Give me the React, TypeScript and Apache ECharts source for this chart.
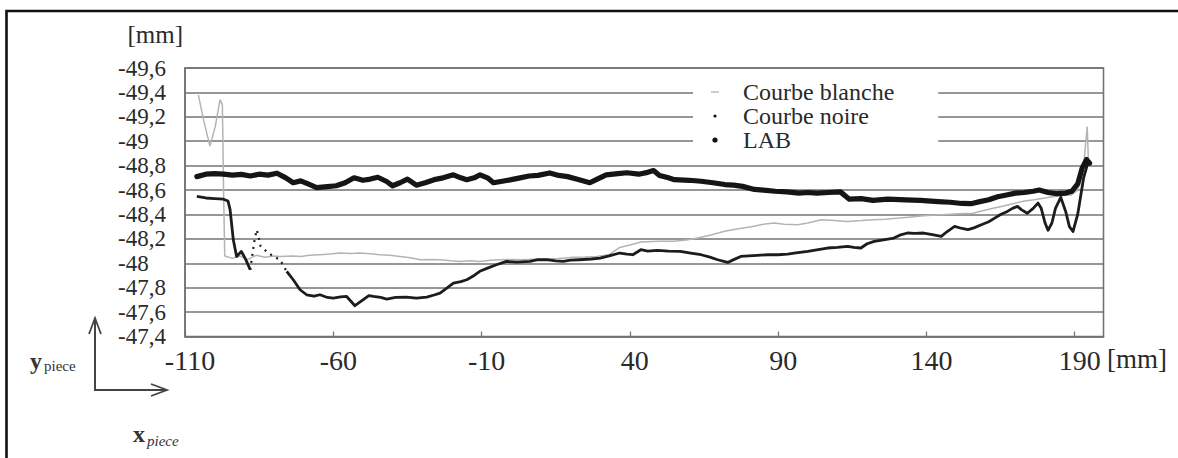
import React, { useEffect, useRef } from "react";
import * as echarts from "echarts";

// ---- data ----
const xTickValues = [-110, -60, -10, 40, 90, 140, 190];

const labPoints: [number, number][] = [
  [-106, -48.71], [-103, -48.73], [-100, -48.735], [-97, -48.73], [-94, -48.722], [-91, -48.728],
  [-88, -48.715], [-85, -48.73], [-82, -48.722], [-79, -48.738], [-76, -48.7], [-73.5, -48.66],
  [-71, -48.675], [-68.5, -48.65], [-65.6, -48.62], [-62, -48.628], [-59, -48.635], [-56, -48.66],
  [-53, -48.7], [-50, -48.68], [-47.5, -48.69], [-45, -48.705], [-42, -48.67], [-40, -48.635],
  [-37.5, -48.66], [-35, -48.69], [-32, -48.64], [-29, -48.66], [-26, -48.685], [-23, -48.7],
  [-19.5, -48.725], [-17, -48.7], [-15, -48.685], [-12.5, -48.7], [-10.5, -48.725], [-8, -48.7],
  [-6, -48.66], [-3, -48.672], [0, -48.685], [3, -48.7], [6, -48.715], [9, -48.72], [13, -48.74],
  [16, -48.72], [19, -48.71], [22, -48.69], [26.5, -48.66], [29, -48.69], [32, -48.725], [36, -48.735],
  [39, -48.742], [43, -48.73], [46, -48.745], [48, -48.76], [50, -48.72], [53, -48.7], [55, -48.685],
  [60, -48.68], [64, -48.672], [68, -48.66], [72, -48.645], [75, -48.64], [78, -48.63], [82, -48.605],
  [85, -48.6], [89, -48.59], [93, -48.585], [97, -48.575], [100, -48.58], [103, -48.575], [107, -48.58],
  [111, -48.585], [114, -48.525], [118, -48.53], [122, -48.515], [127, -48.525], [133, -48.52],
  [138, -48.515], [144, -48.505], [148, -48.5], [152, -48.49], [155, -48.488], [158, -48.505],
  [161, -48.52], [164, -48.545], [167, -48.56], [170, -48.575], [173, -48.58], [176, -48.59],
  [178, -48.6], [181, -48.58], [184, -48.57], [187, -48.575], [189, -48.59], [191, -48.65],
  [192.5, -48.78], [194, -48.85], [195, -48.82],
];

const noirePoints: [number, number][] = [
  [-106, -48.548], [-103, -48.535], [-100, -48.53], [-97, -48.525], [-95.5, -48.51], [-94.8, -48.44],
  [-93.7, -48.19], [-92.6, -48.056], [-91, -48.097], [-89.5, -48.03], [-88, -47.947],
];

const noireDottedPoints: [number, number][] = [
  [-88, -47.947], [-86.5, -48.2], [-85.8, -48.275], [-84.5, -48.14], [-82.5, -48.097],
  [-80.2, -48.056], [-78, -48.029], [-75.7, -47.933],
];

const noireRestPoints: [number, number][] = [
  [-75.7, -47.933], [-73.5, -47.865], [-71.2, -47.783], [-69, -47.742], [-66.5, -47.73], [-64.5, -47.742],
  [-62, -47.72], [-60, -47.715], [-57.5, -47.725], [-55.5, -47.728], [-52.7, -47.652], [-50, -47.7],
  [-48, -47.735], [-46.5, -47.728], [-44, -47.72], [-42, -47.707], [-39, -47.72], [-35.3, -47.723],
  [-32, -47.715], [-28.5, -47.723], [-26, -47.74], [-24, -47.756], [-21.5, -47.8], [-19.5, -47.838],
  [-17, -47.85], [-15, -47.865], [-12.5, -47.9], [-10.6, -47.934], [-8, -47.96], [-5, -47.988],
  [-1.6, -48.015], [2, -48.01], [6.3, -48.015], [9, -48.03], [11.9, -48.029], [15, -48.02],
  [17.5, -48.015], [20, -48.025], [23, -48.029], [27, -48.035], [30, -48.043], [33, -48.06],
  [36.6, -48.084], [39, -48.075], [41, -48.07], [43.7, -48.111], [46, -48.1], [49.3, -48.105],
  [53, -48.1], [57, -48.097], [60, -48.085], [64, -48.07], [67, -48.05], [69.6, -48.029], [73, -48.007],
  [75, -48.03], [77.4, -48.056], [80, -48.06], [83, -48.065], [86.4, -48.07], [90, -48.07],
  [93.2, -48.075], [96, -48.085], [100, -48.097], [103, -48.11], [106.6, -48.125], [110, -48.13],
  [113.4, -48.138], [115.5, -48.13], [117.9, -48.125], [120, -48.16], [122.4, -48.18], [125, -48.19],
  [129, -48.207], [131, -48.23], [133.6, -48.248], [136, -48.245], [139, -48.248], [142, -48.235],
  [145, -48.22], [147, -48.26], [149.5, -48.302], [152, -48.285], [154, -48.275], [156, -48.29],
  [158.5, -48.316], [161, -48.34], [163, -48.37], [165, -48.4], [167.3, -48.425], [169, -48.45],
  [170.7, -48.466], [172, -48.44], [174, -48.41], [176, -48.45], [177.6, -48.493], [178.7, -48.45],
  [180, -48.33], [181, -48.27], [182.3, -48.33], [183.5, -48.45], [185.3, -48.54], [187, -48.42],
  [188.2, -48.3], [189.4, -48.26], [191, -48.4], [193, -48.7], [194.4, -48.82],
];

const blanchePoints: [number, number][] = [
  [-105.5, -49.38], [-103.5, -49.15], [-101.6, -48.96], [-99.8, -49.12], [-98.2, -49.34], [-97.4, -49.3],
  [-97, -48.6], [-96.6, -48.06], [-94, -48.04], [-91.5, -48.06], [-89, -48.03], [-86, -48.065],
  [-83, -48.05], [-80, -48.06], [-78, -48.056], [-74, -48.06], [-71, -48.056], [-68, -48.065],
  [-64.5, -48.07], [-61, -48.075], [-57.8, -48.084], [-54, -48.08], [-51, -48.084], [-47.5, -48.078],
  [-44.3, -48.07], [-41, -48.065], [-37.5, -48.056], [-34, -48.045], [-30.8, -48.029], [-27, -48.03],
  [-24, -48.029], [-20.5, -48.02], [-17.3, -48.015], [-14, -48.02], [-10.6, -48.015], [-7, -48.025],
  [-3.8, -48.029], [0, -48.03], [3, -48.029], [8, -48.032], [12, -48.034], [16, -48.04], [21, -48.05],
  [25, -48.052], [28.8, -48.056], [33, -48.07], [36.6, -48.13], [40, -48.15], [43.7, -48.175],
  [50, -48.18], [55, -48.18], [59, -48.19], [62.8, -48.207], [67, -48.23], [72, -48.262], [76, -48.28],
  [81, -48.3], [85, -48.32], [88.7, -48.33], [92, -48.32], [96.6, -48.316], [100, -48.33],
  [104.5, -48.357], [109, -48.35], [113.4, -48.343], [118, -48.35], [122, -48.357], [126, -48.36],
  [131, -48.37], [135, -48.38], [139, -48.39], [143, -48.395], [146.8, -48.4], [151, -48.405],
  [155.7, -48.41], [159, -48.43], [162.5, -48.45], [166, -48.47], [169.5, -48.49], [173, -48.51],
  [176.3, -48.52], [180, -48.535], [183, -48.548], [186, -48.555], [188.8, -48.56], [191, -48.6],
  [193, -48.8], [194.2, -49.12], [194.6, -48.85],
];

const SERIF = "'Liberation Serif', 'DejaVu Serif', serif";
const GRID_COLOR = "#737373";
const TEXT_COLOR = "#2a2a2a";

export default function App() {
  const ref = useRef<HTMLDivElement>(null);

  useEffect(() => {
    if (!ref.current) return;
    const chart = echarts.init(ref.current, undefined, { renderer: "svg" });

    const fmtY = (v: number) => String(Math.round(v * 10) / 10).replace(".", ",");

    chart.setOption({
      animation: false,
      backgroundColor: "#ffffff",
      grid: {
        left: 185,
        top: 68,
        width: 918.5,
        height: 268.5,
        show: true,
        borderColor: GRID_COLOR,
        borderWidth: 1.6,
        backgroundColor: "transparent",
      },
      xAxis: {
        type: "value",
        min: -110,
        max: 199.7,
        axisLine: { show: true, onZero: false, lineStyle: { color: GRID_COLOR, width: 1.6 } },
        axisTick: {
          show: true,
          inside: true,
          length: 5,
          customValues: xTickValues,
          lineStyle: { color: GRID_COLOR, width: 1.2 },
        },
        axisLabel: {
          customValues: xTickValues,
          margin: 10,
          fontSize: 28,
          fontFamily: SERIF,
          color: TEXT_COLOR,
          padding: [0, 0, 0, 10],
          formatter: (v: number) => String(v),
        },
        splitLine: { show: false },
      },
      yAxis: {
        type: "value",
        inverse: true,
        min: -49.6,
        max: -47.4,
        interval: 0.2,
        axisLine: { show: true, onZero: false, lineStyle: { color: GRID_COLOR, width: 1.6 } },
        axisTick: { show: false },
        axisLabel: {
          align: "left",
          margin: 67,
          fontSize: 23,
          fontFamily: SERIF,
          color: TEXT_COLOR,
          padding: [0, 0, 7, 0],
          showMinLabel: true,
          showMaxLabel: true,
          hideOverlap: false,
          formatter: fmtY,
        },
        splitLine: { show: true, lineStyle: { color: GRID_COLOR, width: 1.6 } },
      },
      legend: {
        orient: "vertical",
        left: 693,
        top: 74,
        padding: [6, 44, 6, 15],
        backgroundColor: "#ffffff",
        itemWidth: 30,
        itemHeight: 10,
        itemGap: 0,
        selectedMode: false,
        textStyle: { fontSize: 24, fontFamily: SERIF, color: TEXT_COLOR },
        data: [
          {
            name: "Courbe blanche",
            icon: "path://M0,0M30,10M3,4.3h8v1.4h-8z",
            itemStyle: { color: "#b8b8b8" },
          },
          {
            name: "Courbe noire",
            icon: "path://M0,0M30,10M5.4,5a1.6,1.6 0 1,0 3.2,0a1.6,1.6 0 1,0 -3.2,0z",
            itemStyle: { color: "#111111" },
          },
          {
            name: "LAB",
            icon: "path://M0,0M30,10M4.4,5a2.6,2.6 0 1,0 5.2,0a2.6,2.6 0 1,0 -5.2,0z",
            itemStyle: { color: "#111111" },
          },
        ],
      },
      series: [
        {
          name: "Courbe blanche",
          type: "line",
          data: blanchePoints,
          showSymbol: false,
          lineStyle: { color: "#b4b4b4", width: 1.5 },
          itemStyle: { color: "#b8b8b8" },
          z: 2,
        },
        {
          name: "Courbe noire",
          type: "line",
          data: noirePoints,
          showSymbol: false,
          lineStyle: { color: "#1c1c1c", width: 2.8, join: "round" },
          itemStyle: { color: "#111111" },
          z: 3,
        },
        {
          name: "Courbe noire",
          type: "line",
          data: noireDottedPoints,
          showSymbol: false,
          lineStyle: { color: "#1c1c1c", width: 2.2, type: [2, 5] },
          itemStyle: { color: "#111111" },
          z: 3,
        },
        {
          name: "Courbe noire",
          type: "line",
          data: noireRestPoints,
          showSymbol: false,
          lineStyle: { color: "#1c1c1c", width: 2.8, join: "round" },
          itemStyle: { color: "#111111" },
          z: 3,
        },
        {
          name: "LAB",
          type: "line",
          data: labPoints,
          showSymbol: false,
          lineStyle: { color: "#151515", width: 5.2, join: "round", cap: "round" },
          itemStyle: { color: "#111111" },
          z: 4,
        },
      ],
      graphic: [
        {
          type: "rect",
          shape: { x: 6.5, y: 11, width: 1400, height: 700 },
          style: { fill: "none", stroke: "#111111", lineWidth: 2.6 },
          silent: true,
        },
        {
          type: "text",
          x: 183,
          y: 34,
          style: {
            text: "[mm]",
            font: `25px ${SERIF}`,
            fill: TEXT_COLOR,
            align: "right",
            verticalAlign: "middle",
          },
        },
        {
          type: "text",
          x: 1107,
          y: 359,
          style: {
            text: "[mm]",
            font: `27px ${SERIF}`,
            fill: TEXT_COLOR,
            align: "left",
            verticalAlign: "middle",
          },
        },
        // reference frame arrows
        {
          type: "line",
          shape: { x1: 95, y1: 391, x2: 95, y2: 318 },
          style: { stroke: "#444", lineWidth: 2 },
        },
        {
          type: "polyline",
          shape: { points: [[89, 334], [95, 318], [101, 334]] },
          style: { stroke: "#444", lineWidth: 1.8, fill: "none" },
        },
        {
          type: "line",
          shape: { x1: 94, y1: 390, x2: 167, y2: 390 },
          style: { stroke: "#444", lineWidth: 2 },
        },
        {
          type: "polyline",
          shape: { points: [[151, 384], [167, 390], [151, 396]] },
          style: { stroke: "#444", lineWidth: 1.8, fill: "none" },
        },
        {
          type: "text",
          x: 30,
          y: 361,
          style: {
            text: "y",
            font: `bold 24px ${SERIF}`,
            fill: "#333",
            align: "left",
            verticalAlign: "middle",
          },
        },
        {
          type: "text",
          x: 44,
          y: 366,
          style: {
            text: "piece",
            font: `15px ${SERIF}`,
            fill: "#333",
            align: "left",
            verticalAlign: "middle",
          },
        },
        {
          type: "text",
          x: 133,
          y: 434,
          style: {
            text: "x",
            font: `bold 24px ${SERIF}`,
            fill: "#333",
            align: "left",
            verticalAlign: "middle",
          },
        },
        {
          type: "text",
          x: 147,
          y: 441,
          style: {
            text: "piece",
            font: `italic 15px ${SERIF}`,
            fill: "#333",
            align: "left",
            verticalAlign: "middle",
          },
        },
      ],
    });

    return () => {
      chart.dispose();
    };
  }, []);

  return (
    <div
      ref={ref}
      style={{ position: "absolute", left: 0, top: 0, width: 1178, height: 458, background: "#fff" }}
    />
  );
}
